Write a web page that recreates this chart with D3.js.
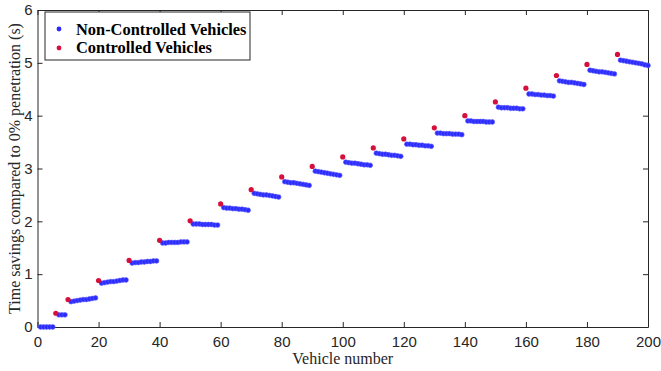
<!DOCTYPE html>
<html>
<head>
<meta charset="utf-8">
<script src="https://cdnjs.cloudflare.com/ajax/libs/d3/7.8.5/d3.min.js"></script>
<style>
body { margin: 0; background: #fff; }
.tick text { font-family: "Liberation Sans", Arial, sans-serif; font-size: 15px; fill: #262626; }
.label { font-family: "Liberation Serif", "Times New Roman", serif; font-size: 16px; fill: #262626; }
.legend text { font-family: "Liberation Serif", "Times New Roman", serif; font-size: 16.4px; font-weight: bold; fill: #000; }
</style>
</head>
<body>
<svg id="chart"></svg>
<script>
// controlled vehicles: one every 10 (plus the 6th)
var controlledIds = [6, 10, 20, 30, 40, 50, 60, 70, 80, 90, 100, 110, 120, 130, 140, 150, 160, 170, 180, 190]
var controlledSavings = [0.26, 0.52, 0.88, 1.26, 1.64, 2.01, 2.33, 2.60, 2.84, 3.04, 3.22, 3.39, 3.56, 3.77, 4.00, 4.26, 4.52, 4.76, 4.97, 5.16]

// non-controlled vehicles, grouped between the controlled ones
var groupStarts = [1, 7, 11, 21, 31, 41, 51, 61, 71, 81, 91, 101, 111, 121, 131, 141, 151, 161, 171, 181, 191]
var groupSavings = [
    [0, 0, 0, 0, 0],
    [0.23, 0.23, 0.23],
    [0.48, 0.49, 0.50, 0.51, 0.52, 0.52, 0.53, 0.54, 0.55],
    [0.83, 0.84, 0.85, 0.86, 0.86, 0.87, 0.88, 0.89, 0.89],
    [1.21, 1.22, 1.22, 1.23, 1.23, 1.24, 1.24, 1.25, 1.25],
    [1.59, 1.59, 1.60, 1.60, 1.60, 1.60, 1.61, 1.61, 1.61],
    [1.95, 1.95, 1.95, 1.94, 1.94, 1.94, 1.94, 1.93, 1.93],
    [2.26, 2.25, 2.25, 2.24, 2.24, 2.23, 2.23, 2.22, 2.21],
    [2.53, 2.52, 2.51, 2.50, 2.50, 2.49, 2.48, 2.47, 2.46],
    [2.75, 2.74, 2.73, 2.73, 2.72, 2.71, 2.70, 2.69, 2.68],
    [2.95, 2.94, 2.93, 2.92, 2.91, 2.90, 2.89, 2.88, 2.87],
    [3.12, 3.11, 3.10, 3.10, 3.09, 3.08, 3.07, 3.07, 3.06],
    [3.29, 3.28, 3.27, 3.27, 3.26, 3.25, 3.25, 3.24, 3.23],
    [3.46, 3.46, 3.45, 3.45, 3.44, 3.44, 3.43, 3.43, 3.42],
    [3.67, 3.67, 3.66, 3.66, 3.66, 3.65, 3.65, 3.65, 3.64],
    [3.90, 3.90, 3.89, 3.89, 3.89, 3.89, 3.88, 3.88, 3.88],
    [4.16, 4.15, 4.15, 4.15, 4.14, 4.14, 4.14, 4.13, 4.13],
    [4.41, 4.41, 4.40, 4.40, 4.39, 4.39, 4.38, 4.38, 4.37],
    [4.66, 4.65, 4.64, 4.63, 4.63, 4.62, 4.61, 4.60, 4.59],
    [4.86, 4.85, 4.84, 4.83, 4.83, 4.82, 4.81, 4.80, 4.79],
    [5.05, 5.04, 5.03, 5.02, 5.01, 5.00, 4.99, 4.98, 4.96, 4.95]
]

var xTicks = [0, 20, 40, 60, 80, 100, 120, 140, 160, 180, 200]
var yTicks = [0, 1, 2, 3, 4, 5, 6]

var blueColor = "#2b2bff"
var redColor = "#d5103c"

var nonControlled = []
groupStarts.forEach(function(start, g)
{
    groupSavings[g].forEach(function(v, i)
    {
        nonControlled.push({id: start + i, saving: v})
    })
})
var controlled = controlledIds.map(function(id, i)
{
    return {id: id, saving: controlledSavings[i]}
})

var screen = {width: 661, height: 371}
var margins = {left: 37.5, right: 13, top: 10, bottom: 44}
var plot = {
    width: screen.width - margins.left - margins.right,
    height: screen.height - margins.top - margins.bottom
}

var svg = d3.select("#chart")
    .attr("width", screen.width)
    .attr("height", screen.height)

var xScale = d3.scaleLinear().domain([0, 200]).range([0, plot.width])
var yScale = d3.scaleLinear().domain([0, 6]).range([plot.height, 0])

var g = svg.append("g")
    .attr("transform", "translate(" + margins.left + "," + margins.top + ")")

var axisColor = "#262626"

// bottom / left axes with labels, ticks pointing inward
var xAxis = g.append("g")
    .attr("transform", "translate(0," + plot.height + ")")
    .call(d3.axisBottom(xScale).tickValues(xTicks).tickSizeInner(-5).tickSizeOuter(0).tickPadding(9).tickFormat(d3.format("d")))
var yAxis = g.append("g")
    .call(d3.axisLeft(yScale).tickValues(yTicks).tickSizeInner(-5).tickSizeOuter(0).tickPadding(5).tickFormat(d3.format("d")))
// top / right mirrored ticks
var xTop = g.append("g")
    .call(d3.axisTop(xScale).tickValues(xTicks).tickSizeInner(-5).tickSizeOuter(0).tickFormat(""))
var yRight = g.append("g")
    .attr("transform", "translate(" + plot.width + ",0)")
    .call(d3.axisRight(yScale).tickValues(yTicks).tickSizeInner(-5).tickSizeOuter(0).tickFormat(""))

;[xAxis, yAxis, xTop, yRight].forEach(function(a)
{
    a.selectAll("path,line").attr("stroke", axisColor).attr("stroke-width", 1)
})

// dots
g.append("g").selectAll("circle")
    .data(nonControlled)
    .enter()
    .append("circle")
    .attr("cx", function(d) { return xScale(d.id) })
    .attr("cy", function(d) { return yScale(d.saving) })
    .attr("r", 2.4)
    .attr("fill", blueColor)
    .attr("stroke", "#5a5aff")
    .attr("stroke-width", 0.6)

g.append("g").selectAll("circle")
    .data(controlled)
    .enter()
    .append("circle")
    .attr("cx", function(d) { return xScale(d.id) })
    .attr("cy", function(d) { return yScale(d.saving) })
    .attr("r", 2.6)
    .attr("fill", redColor)

// labels
svg.append("text")
    .classed("label", true)
    .attr("text-anchor", "middle")
    .attr("x", margins.left + plot.width / 2)
    .attr("y", 364)
    .text("Vehicle number")

svg.append("g")
    .attr("transform", "translate(20," + (margins.top + plot.height / 2) + ")")
    .append("text")
    .classed("label", true)
    .attr("text-anchor", "middle")
    .attr("transform", "rotate(270)")
    .text("Time savings compared to 0% penetration (s)")

// legend
var legend = svg.append("g").classed("legend", true)
legend.append("rect")
    .attr("x", 45).attr("y", 12)
    .attr("width", 205).attr("height", 48)
    .attr("fill", "#fff")
    .attr("stroke", axisColor)
    .attr("stroke-width", 1)

var legendItems = [
    {name: "Non-Controlled Vehicles", color: blueColor},
    {name: "Controlled Vehicles", color: redColor}
]
legendItems.forEach(function(item, i)
{
    legend.append("circle")
        .attr("cx", 59).attr("cy", 29 + i * 19)
        .attr("r", 2.4)
        .attr("fill", item.color)
    legend.append("text")
        .attr("x", 76).attr("y", 35 + i * 18)
        .text(item.name)
})
</script>
</body>
</html>
